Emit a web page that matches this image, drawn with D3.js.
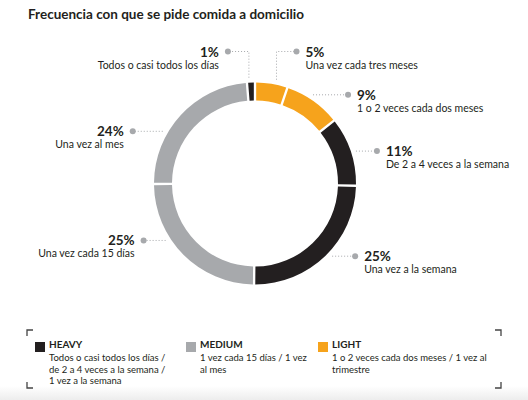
<!DOCTYPE html>
<html>
<head>
<meta charset="utf-8">
<script src="https://cdn.jsdelivr.net/npm/d3@7"></script>
<style>
  body { margin: 0; background: #fff; }
  text { font-family: Lato, "Open Sans", sans-serif; }
</style>
</head>
<body>
<script>
// Datos (orden horario desde las 12)
const labels = ['Una vez cada tres meses', '1 o 2 veces cada dos meses', 'De 2 a 4 veces a la semana', 'Una vez a la semana', 'Una vez cada 15 días', 'Una vez al mes', 'Todos o casi todos los días'];
const values = [5, 9, 11, 25, 25, 24, 1];
const groups = ['light', 'light', 'heavy', 'heavy', 'medium', 'medium', 'heavy'];

// Leyenda
const legendKeys = ['heavy', 'medium', 'light'];
const legendTitles = ['HEAVY', 'MEDIUM', 'LIGHT'];
const legendLines = [
  ['Todos o casi todos los días /', 'de 2 a 4 veces a la semana /', '1 vez a la semana'],
  ['1 vez cada 15 días / 1 vez', 'al mes'],
  ['1 o 2 veces cada dos meses / 1 vez al', 'trimestre']
];

// Colocación de las etiquetas (ángulo donde toca el anillo, largo de la guía)
const labelAngles = [11.7, 33.2, 72.2, 133.3, 237.5, 299.5, 356.7];
const leaderLengths = [20, 35, 21, 23, 22, 30, 21];
const leaderVertical = [true, false, false, false, false, false, true];

const width = 528, height = 400;
const cx = 255, cy = 183.5;
const outerR = 101, innerR = 83;

const color = d3.scaleOrdinal().domain(legendKeys).range(['#231f20', '#a7a9ac', '#f6a31c']);

const svg = d3.select('body').append('svg')
  .attr('width', width).attr('height', height);

// franja gris inferior
const grad = svg.append('defs').append('linearGradient').attr('id', 'fade').attr('x1', 0).attr('x2', 0).attr('y1', 0).attr('y2', 1);
grad.append('stop').attr('offset', 0).attr('stop-color', '#fff');
grad.append('stop').attr('offset', 1).attr('stop-color', '#ededed');
svg.append('rect').attr('x', 0).attr('y', 386).attr('width', width).attr('height', 14).attr('fill', 'url(#fade)');

svg.append('text')
  .attr('x', 28).attr('y', 19)
  .attr('font-size', 13.5).attr('font-weight', 700).attr('fill', '#231f20')
  .text('Frecuencia con que se pide comida a domicilio');

const data = values.map((v, i) => ({ label: labels[i], value: v, group: groups[i], i }));

const pie = d3.pie().value(d => d.value).sort(null).padAngle(0.018);
const arc = d3.arc().innerRadius(innerR).outerRadius(outerR);

const g = svg.append('g').attr('transform', `translate(${cx},${cy})`);
g.selectAll('path.slice').data(pie(data)).join('path')
  .attr('class', 'slice')
  .attr('d', arc)
  .attr('fill', d => color(d.data.group));

// Etiquetas con guías punteadas
const touchR = outerR + 5;
const topY = -outerR - 31;
const lbl = g.selectAll('g.lbl').data(data).join('g').attr('class', 'lbl');

lbl.each(function(d, i) {
  const a = labelAngles[i] * Math.PI / 180;
  const tx = Math.sin(a) * touchR, ty = -Math.cos(a) * touchR;
  const right = Math.sin(a) > 0;
  const sgn = right ? 1 : -1;
  let pts, dot;
  if (leaderVertical[i]) {
    dot = [tx + sgn * leaderLengths[i], topY];
    pts = [[tx, ty], [tx, topY], dot];
  } else {
    dot = [tx + sgn * leaderLengths[i], ty];
    pts = [[tx, ty], dot];
  }
  const el = d3.select(this);
  el.append('path')
    .attr('d', d3.line()(pts))
    .attr('fill', 'none').attr('stroke', '#a7a9ac')
    .attr('stroke-width', 1).attr('stroke-dasharray', '1,2');
  el.append('circle').attr('cx', dot[0]).attr('cy', dot[1]).attr('r', 3).attr('fill', '#a7a9ac');
  const anchor = right ? 'start' : 'end';
  const x = dot[0] + sgn * 9;
  el.append('text')
    .attr('x', x).attr('y', dot[1] + 5)
    .attr('text-anchor', anchor)
    .attr('font-size', 13.5).attr('font-weight', 700).attr('fill', '#231f20')
    .text(d.value + '%');
  el.append('text')
    .attr('x', x).attr('y', dot[1] + 17)
    .attr('text-anchor', anchor)
    .attr('font-size', 10.5).attr('fill', '#231f20')
    .text(d.label);
});

// Leyenda
const bx0 = 27, by0 = 330, bx1 = 501, by1 = 388, arm = 6;
const bracket = d3.line();
[
  [[bx0, by0 + arm], [bx0, by0], [bx0 + arm, by0]],
  [[bx1 - arm, by0], [bx1, by0], [bx1, by0 + arm]],
  [[bx0, by1 - arm], [bx0, by1], [bx0 + arm, by1]],
  [[bx1 - arm, by1], [bx1, by1], [bx1, by1 - arm]]
].forEach(p => svg.append('path').attr('d', bracket(p)).attr('fill', 'none').attr('stroke', '#444').attr('stroke-width', 1.3));

const legendPos = [35, 186, 318];
const leg = svg.selectAll('g.leg').data(legendKeys).join('g')
  .attr('class', 'leg')
  .attr('transform', (k, i) => `translate(${legendPos[i]},342)`);
leg.append('rect').attr('width', 10).attr('height', 10).attr('fill', k => color(k));
leg.append('text').attr('x', 14).attr('y', 5.5)
  .attr('font-size', 10).attr('font-weight', 700).attr('fill', '#231f20')
  .text((k, i) => legendTitles[i]);
leg.each(function(k, i) {
  d3.select(this).selectAll('text.line').data(legendLines[i]).join('text')
    .attr('class', 'line')
    .attr('x', 14).attr('y', (t, j) => 19 + j * 11.7)
    .attr('font-size', 9.5).attr('fill', '#231f20')
    .text(t => t);
});
</script>
</body>
</html>
